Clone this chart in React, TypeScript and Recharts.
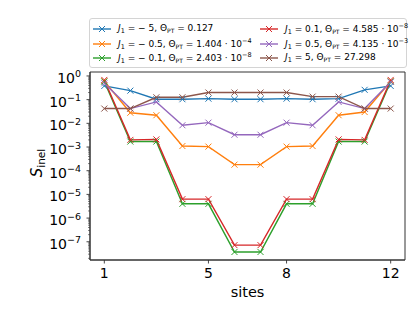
import { LineChart, Line, XAxis, YAxis, ReferenceArea } from "recharts";

const sites = [1, 2, 3, 4, 5, 6, 7, 8, 9, 10, 11, 12];
const sJm5 = [0.38, 0.24, 0.104, 0.104, 0.11, 0.104, 0.104, 0.11, 0.104, 0.11, 0.26, 0.38];
const sJm05 = [0.6, 0.028, 0.022, 0.0011, 0.00104, 0.00018, 0.00018, 0.00104, 0.0011, 0.022, 0.03, 0.6];
const sJm01 = [0.58, 0.0017, 0.0017, 4e-6, 4e-6, 3.7e-8, 3.7e-8, 4e-6, 4e-6, 0.0017, 0.0017, 0.58];
const sJp01 = [0.68, 0.002, 0.0021, 6.3e-6, 6.3e-6, 7.2e-8, 7.2e-8, 6.3e-6, 6.3e-6, 0.0021, 0.002, 0.68];
const sJp05 = [0.49, 0.042, 0.08, 0.0083, 0.0107, 0.0033, 0.0033, 0.0107, 0.0083, 0.08, 0.042, 0.56];
const sJp5 = [0.042, 0.042, 0.126, 0.126, 0.2, 0.2, 0.2, 0.2, 0.134, 0.134, 0.042, 0.042];

const xTicks = [1, 5, 8, 12];
const yMajor = [1e-7, 1e-6, 1e-5, 1e-4, 1e-3, 1e-2, 1e-1, 1];
const yMinor = [1e-8, ...yMajor.slice(0, -1)].flatMap((d) =>
  [2, 3, 4, 5, 6, 7, 8, 9].map((m) => m * d)
);
const yTicks = [...yMinor, ...yMajor].sort((a, b) => a - b);

const data = sites.map((s, i) => ({
  site: s,
  jm5: sJm5[i],
  jm05: sJm05[i],
  jm01: sJm01[i],
  jp01: sJp01[i],
  jp05: sJp05[i],
  jp5: sJp5[i],
}));

const FONT = "DejaVu Sans, sans-serif";
const MINUS = "\u2212";

const series = [
  { key: "jm5", color: "#1f77b4", j: MINUS + " 5", mant: "0.127", exp: "" },
  { key: "jm05", color: "#ff7f0e", j: MINUS + " 0.5", mant: "1.404", exp: MINUS + "4" },
  { key: "jm01", color: "#2ca02c", j: MINUS + " 0.1", mant: "2.403", exp: MINUS + "8" },
  { key: "jp01", color: "#d62728", j: "0.1", mant: "4.585", exp: MINUS + "8" },
  { key: "jp05", color: "#9467bd", j: "0.5", mant: "4.135", exp: MINUS + "3" },
  { key: "jp5", color: "#8c564b", j: "5", mant: "27.298", exp: "" },
];

const XMark = (props: any) => {
  const { cx, cy, stroke } = props;
  if (cx == null || cy == null) return null;
  const r = 3;
  return (
    <path
      d={`M${cx - r},${cy - r}L${cx + r},${cy + r}M${cx - r},${cy + r}L${cx + r},${cy - r}`}
      stroke={stroke}
      strokeWidth={1}
      fill="none"
    />
  );
};

const YTick = (props: any) => {
  const { x, y, payload } = props;
  const lg = Math.log10(payload.value);
  const e = Math.round(lg);
  const major = Math.abs(lg - e) < 1e-6;
  return (
    <g>
      <line x1={x} x2={x - (major ? 3.5 : 2)} y1={y} y2={y} stroke="#333" strokeWidth={major ? 0.9 : 0.6} />
      {major && (
        <text x={x - 9} y={y + 7} textAnchor="end" fontSize={14} fontFamily={FONT} fill="#000">
          10
          <tspan dy={-5.5} fontSize={9.5}>{e === 0 ? "0" : MINUS + -e}</tspan>
        </text>
      )}
    </g>
  );
};

const XTick = (props: any) => {
  const { x, y, payload } = props;
  return (
    <g>
      <line x1={x} x2={x} y1={y} y2={y + 3.5} stroke="#333" strokeWidth={0.9} />
      <text x={x} y={y + 18} textAnchor="middle" fontSize={14} fontFamily={FONT} fill="#000">
        {payload.value}
      </text>
    </g>
  );
};

const Handle = ({ color }: { color: string }) => (
  <svg width={18} height={8} style={{ display: "block" }}>
    <line x1={0} x2={18} y1={4} y2={4} stroke={color} strokeWidth={1.4} />
    <XMark cx={9} cy={4} stroke={color} />
  </svg>
);

const LegendBox = () => {
  const cols = [series.slice(0, 3), series.slice(3)];
  return (
    <div
      style={{
        position: "absolute",
        left: 89,
        top: 18,
        width: 316,
        height: 48,
        border: "1px solid #d4d4d4",
        borderRadius: 3,
        background: "rgba(255,255,255,0.8)",
        fontFamily: FONT,
        fontSize: 9,
        color: "#000",
      }}
    >
      {cols.map((col, ci) => (
        <div key={ci} style={{ position: "absolute", left: ci === 0 ? 3 : 170, top: 3 }}>
          {col.map((s) => (
            <div key={s.key} style={{ display: "flex", alignItems: "center", height: 14.5, whiteSpace: "nowrap" }}>
              <Handle color={s.color} />
              <span style={{ marginLeft: 7, lineHeight: "10px" }}>
                <i>J</i>
                <sub style={{ fontSize: 6.5, verticalAlign: "-2px" }}>1</sub> = {s.j}, Θ
                <sub style={{ fontSize: 6, verticalAlign: "-2px" }}>PT</sub> = {s.mant}
                {s.exp && (
                  <>
                    {" · 10"}
                    <sup style={{ fontSize: 6.5, verticalAlign: "4px" }}>{s.exp}</sup>
                  </>
                )}
              </span>
            </div>
          ))}
        </div>
      ))}
    </div>
  );
};

const YLabel = () => (
  <text x={42} y={163} transform="rotate(-90 42 163)" textAnchor="middle" fontFamily={FONT} fill="#000">
    <tspan fontSize={15} fontStyle="italic">S</tspan>
    <tspan fontSize={10.5} dy={3}>inel</tspan>
  </text>
);

const XLabel = () => (
  <text x={247.5} y={297} textAnchor="middle" fontSize={14.5} fontFamily={FONT} fill="#000">
    sites
  </text>
);

export default function App() {
  return (
    <div style={{ position: "absolute", left: 0, top: 0, width: 415, height: 311, background: "#fff" }}>
      <LineChart width={415} height={311} data={data} margin={{ top: 72, right: 10, bottom: 21, left: 30 }}>
        <ReferenceArea
          x1={0.45}
          x2={12.55}
          y1={1.7e-8}
          y2={1.47}
          fill="none"
          fillOpacity={0}
          stroke="#333"
          strokeWidth={1}
          ifOverflow="visible"
        />
        <XAxis
          dataKey="site"
          type="number"
          domain={[0.45, 12.55]}
          ticks={xTicks}
          interval={0}
          allowDataOverflow
          tickSize={0}
          tickMargin={0}
          tickLine={false}
          height={30}
          axisLine={{ stroke: "#333", strokeWidth: 1 }}
          tick={<XTick />}
          label={<XLabel />}
        />
        <YAxis
          type="number"
          scale="log"
          domain={[1.7e-8, 1.47]}
          allowDataOverflow
          ticks={yTicks}
          interval={0}
          tickSize={0}
          tickMargin={0}
          tickLine={false}
          width={60}
          axisLine={{ stroke: "#333", strokeWidth: 1 }}
          tick={<YTick />}
          label={<YLabel />}
        />
        {series.map((s) => (
          <Line
            key={s.key}
            dataKey={s.key}
            stroke={s.color}
            strokeWidth={1.4}
            isAnimationActive={false}
            dot={(p: any) => <XMark key={`${s.key}-${p.index}`} cx={p.cx} cy={p.cy} stroke={s.color} />}
            activeDot={false}
          />
        ))}
      </LineChart>
      <LegendBox />
    </div>
  );
}
